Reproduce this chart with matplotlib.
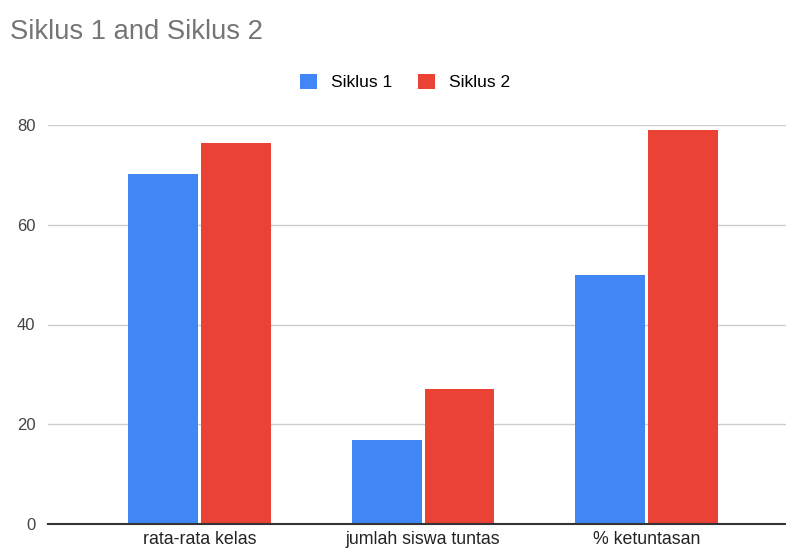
import numpy as np
import matplotlib.pyplot as plt
from matplotlib.patches import Patch

categories = ["rata-rata kelas", "jumlah siswa tuntas", "% ketuntasan"]
siklus1 = [70.2, 16.8, 50.0]
siklus2 = [76.4, 27.0, 79.0]
series_names = ["Siklus 1", "Siklus 2"]
yticks = [0, 20, 40, 60, 80]

BLUE = "#4285F4"
RED = "#EA4335"

plt.rcParams["font.family"] = ["Liberation Sans", "DejaVu Sans"]

fig = plt.figure(figsize=(7.86, 5.54), dpi=100)
ax = fig.add_axes([48 / 786, 30 / 554, 738 / 786, 399 / 554])

x = np.arange(len(categories))
w = 0.313
gap = 0.0134
ax.bar(x - (w + gap) / 2, siklus1, width=w, color=BLUE, zorder=3)
ax.bar(x + (w + gap) / 2, siklus2, width=w, color=RED, zorder=3)

ax.set_xlim(-0.678, 2.624)
ax.set_ylim(0, 80)
ax.set_yticks(yticks)
ax.set_yticklabels([str(t) for t in yticks], fontsize=12, color="#444444")
ax.set_xticks(x)
ax.set_xticklabels(categories, fontsize=12.8, color="#222222")
ax.tick_params(axis="both", length=0)
ax.tick_params(axis="y", pad=9)
ax.tick_params(axis="x", pad=5)
ax.grid(axis="y", color="#cccccc", lw=1, zorder=0)
for s in ["top", "right", "left"]:
    ax.spines[s].set_visible(False)
ax.spines["bottom"].set_color("#333333")
ax.spines["bottom"].set_linewidth(1.5)
ax.spines["bottom"].set_zorder(4)

fig.text(10 / 786, 1 - 32 / 554, "Siklus 1 and Siklus 2", fontsize=19.7,
         color="#757575", va="center", ha="left")

handles = [Patch(facecolor=BLUE), Patch(facecolor=RED)]
fig.legend(handles, series_names, loc="center", bbox_to_anchor=(405 / 786, 1 - 82 / 554),
           ncol=2, frameon=False, fontsize=12.5, handlelength=1.0, handleheight=1.0,
           handletextpad=0.8, columnspacing=1.5)

fig.savefig("out.png", dpi=100)
